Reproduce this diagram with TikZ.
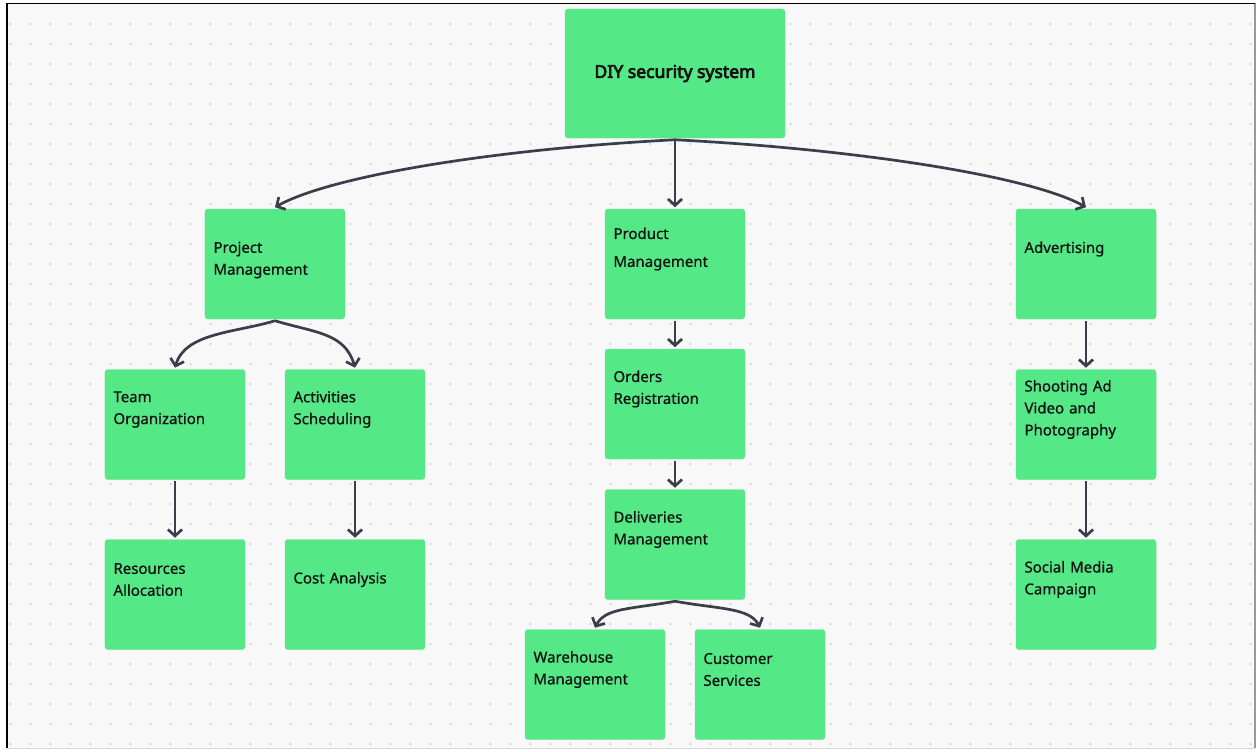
\documentclass[tikz,border=0pt]{standalone}
\usepackage{fontspec}
\setmainfont{Noto Sans}
\newfontfamily\titleface{Noto Sans}[FakeBold=4]
\newfontfamily\cardface{Noto Sans}[FakeBold=0.8]
\usetikzlibrary{arrows.meta}

\definecolor{cardfill}{RGB}{85,232,134}
\definecolor{cardedge}{RGB}{105,228,150}
\definecolor{conn}{RGB}{58,62,74}
\definecolor{canvas}{RGB}{248,248,248}
\definecolor{griddot}{RGB}{204,204,212}
\definecolor{inkdark}{RGB}{18,18,18}

\newcommand{\cardfont}{\cardface\fontsize{12.8}{18.7}\selectfont}

\begin{document}
\begin{tikzpicture}[x=0.03cm, y=0.03cm, >={Straight Barb[length=5.5pt,width=12pt]},
  card/.style={draw=cardedge, fill=cardfill, rounded corners=2.5pt,
    minimum width=4.2cm, minimum height=3.3cm, outer sep=1.5pt},
  cardtext/.style={anchor=west, text width=3.6cm, align=left, inner sep=0pt,
    text=inkdark, font=\cardfont},
  link/.style={->, draw=conn, line width=2.3pt}]

  \useasboundingbox (0,0) rectangle (1257,-751);

  % canvas, frame and dotted grid
  \fill[white] (0,0) rectangle (1257,-751);
  \fill[canvas] (6,-3) rectangle (1255,-748);
  \foreach \i in {0,...,62}
    \foreach \j in {0,...,36}
      \fill[griddot] (10.5+20*\i,-24-20*\j) circle (1.1);
  \draw[gray!30, line width=0.8pt] (7,-748) -- (1255,-748);
  \draw[gray!80, line width=0.9pt] (1255,-3) -- (1255,-748);
  \draw[black, line width=1.4pt] (7,-3.5) -- (1255,-3.5);
  \draw[black, line width=2.2pt] (7,-3) -- (7,-748);

  % boxes
  \node[card, minimum width=6.6cm, minimum height=3.87cm, text=inkdark,
    font=\titleface\fontsize{15}{18}\selectfont] (root) at (675,-73.5) {DIY security system};

  \node[card] (pm) at (275,-264) {};
  \node[card] (prod) at (675,-264) {};
  \node[card] (adv) at (1086,-264) {};

  \node[card] (team) at (175,-424.5) {};
  \node[card] (act) at (355,-424.5) {};
  \node[card] (res) at (175,-594.5) {};
  \node[card] (cost) at (355,-594.5) {};

  \node[card] (ord) at (675,-404) {};
  \node[card] (del) at (675,-544.5) {};
  \node[card] (ware) at (595,-684.5) {};
  \node[card, minimum width=3.9cm] (cust) at (760,-684.5) {};

  \node[card] (shoot) at (1086,-424.5) {};
  \node[card] (soc) at (1086,-594.5) {};

  % box texts
  \node[cardtext] (pm-t) at ([shift={(10,4)}]pm.west) {Project\\Management};
  \node[cardtext] (prod-t) at ([shift={(10,15)}]prod.west) {Product\\[0.18cm]Management};
  \node[cardtext] (adv-t) at ([shift={(10,15)}]adv.west) {Advertising};
  \node[cardtext] (team-t) at ([shift={(10,15)}]team.west) {Team\\Organization};
  \node[cardtext] (act-t) at ([shift={(10,15)}]act.west) {Activities\\Scheduling};
  \node[cardtext] (res-t) at ([shift={(10,15)}]res.west) {Resources\\Allocation};
  \node[cardtext] (cost-t) at ([shift={(10,15)}]cost.west) {Cost Analysis};
  \node[cardtext] (ord-t) at ([shift={(10,15)}]ord.west) {Orders\\Registration};
  \node[cardtext] (del-t) at ([shift={(10,15)}]del.west) {Deliveries\\Management};
  \node[cardtext] (ware-t) at ([shift={(10,15)}]ware.west) {Warehouse\\Management};
  \node[cardtext] (cust-t) at ([shift={(10,15)}]cust.west) {Customer\\Services};
  \node[cardtext] (shoot-t) at ([shift={(10,15)}]shoot.west) {Shooting Ad\\Video and\\Photography};
  \node[cardtext] (soc-t) at ([shift={(10,15)}]soc.west) {Social Media\\Campaign};

  % connectors
  \draw[link] (root.south) .. controls +(-175,-9) and +(57,32) .. (pm.north);
  \draw[link] (root.south) -- (prod.north);
  \draw[link] (root.south) .. controls +(175,-9) and +(-57,32) .. (adv.north);

  \draw[link] (pm.south) .. controls +(-40,-12) and +(10,35) .. (team.north);
  \draw[link] (pm.south) .. controls +(40,-12) and +(-10,35) .. (act.north);
  \draw[link] (team.south) -- (res.north);
  \draw[link] (act.south) -- (cost.north);

  \draw[link] (prod.south) -- (ord.north);
  \draw[link] (ord.south) -- (del.north);
  \draw[link] (del.south) .. controls +(-45,-8) and +(10,20) .. (ware.north);
  \draw[link] (del.south) .. controls +(45,-8) and +(-10,20) .. (cust.north);

  \draw[link] (adv.south) -- (shoot.north);
  \draw[link] (shoot.south) -- (soc.north);

\end{tikzpicture}
\end{document}
